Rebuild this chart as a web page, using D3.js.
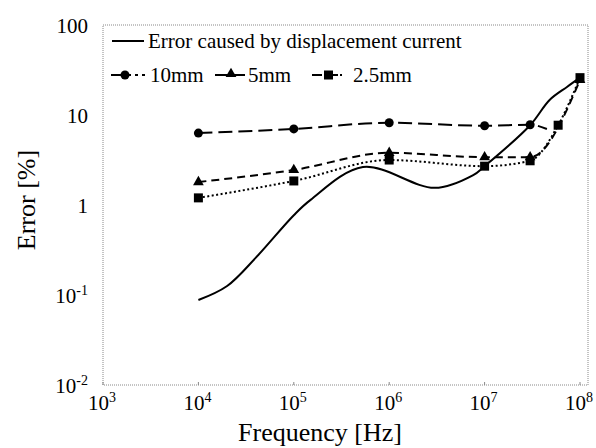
<!DOCTYPE html>
<html><head><meta charset="utf-8">
<script src="https://cdn.jsdelivr.net/npm/d3@7/dist/d3.min.js"></script>
<style>body{margin:0;background:#fff}svg{display:block}</style>
</head><body><svg id="c" width="596" height="448" font-family="'Liberation Serif', 'Times New Roman', Tinos, 'DejaVu Serif', serif"></svg>
<script>
// data
const dispFreq = [1e4, 2e4, 4e4, 1e5, 1.5e5, 5.3e5, 3e6, 7.6e6, 1e7, 3e7, 4.8e7, 7.3e7, 1e8];
const dispErr  = [0.088, 0.126, 0.26, 0.77, 1.14, 2.64, 1.55, 2.15, 2.7, 7.7, 14.7, 20.5, 26];
const f10 = [1e4, 1e5, 1e6, 1e7, 3e7, 4.5e7];
const e10 = [6.3, 7.0, 8.2, 7.6, 7.8, 7.0];
const f5 = [1e4, 1e5, 1e6, 1e7, 3e7, 1e8];
const e5 = [1.8, 2.45, 3.8, 3.4, 3.4, 24.5];
const f25 = [1e4, 1e5, 1e6, 1e7, 3e7, 5.9e7, 1e8];
const e25 = [1.2, 1.85, 3.16, 2.7, 3.1, 7.7, 26];
const xTickExp = [3, 4, 5, 6, 7, 8];
const yTickExp = [-2, -1, 0, 1, 2];
const legendLabels = ["Error caused by displacement current", "10mm", "5mm", "2.5mm"];

const svg = d3.select("#c");
const x = d3.scaleLog().domain([1e3, 1e8]).range([103, 580]);
const y = d3.scaleLog().domain([1e-2, 1e2]).range([385, 25]);

// frame
svg.append("rect").attr("x", 103).attr("y", 25).attr("width", 485).attr("height", 360)
  .attr("fill", "none").attr("stroke", "#888").attr("stroke-width", 1).attr("stroke-dasharray", "1,1");

// ticks
svg.selectAll(".xt").data(xTickExp).enter().append("line")
  .attr("x1", d => x(Math.pow(10, d))).attr("x2", d => x(Math.pow(10, d)))
  .attr("y1", 385).attr("y2", 382).attr("stroke", "#888");

function supLabel(sel, base, exp, small) {
  sel.append("tspan").text(base);
  sel.append("tspan").attr("dy", -8).attr("font-size", small).text(exp);
}
// x tick labels
xTickExp.forEach(e => {
  const t = svg.append("text").attr("x", x(Math.pow(10, e)) - 1).attr("y", 410)
    .attr("text-anchor", "middle").attr("font-size", 21);
  supLabel(t, "10", String(e), 14);
});
// y tick labels
yTickExp.forEach(e => {
  const t = svg.append("text").attr("x", 88).attr("y", y(Math.pow(10, e)) + 8)
    .attr("text-anchor", "end").attr("font-size", 21);
  if (e >= 0) t.text(String(Math.pow(10, e)));
  else supLabel(t, "10", String(e), 14);
});

// axis titles
svg.append("text").attr("x", 320).attr("y", 441).attr("text-anchor", "middle")
  .attr("font-size", 26).text("Frequency [Hz]");
svg.append("text").attr("transform", "translate(35,200) rotate(-90)")
  .attr("text-anchor", "middle").attr("font-size", 26).text("Error [%]");

const zip = (a, b) => a.map((v, i) => [v, b[i]]);

// series
const smooth = d3.line().x(d => x(d[0])).y(d => y(d[1])).curve(d3.curveCatmullRom.alpha(0.5));
svg.append("path").datum(zip(dispFreq, dispErr)).attr("d", smooth)
  .attr("fill", "none").attr("stroke", "#000").attr("stroke-width", 2);

const straight = d3.line().x(d => x(d[0])).y(d => y(d[1])).curve(d3.curveMonotoneX);
svg.append("path").datum(zip(f10, e10)).attr("d", straight)
  .attr("fill", "none").attr("stroke", "#000").attr("stroke-width", 2).attr("stroke-dasharray", "14,6");
svg.append("path").datum(zip(f5, e5)).attr("d", straight)
  .attr("fill", "none").attr("stroke", "#000").attr("stroke-width", 2).attr("stroke-dasharray", "8,5");
svg.append("path").datum(zip(f25, e25)).attr("d", straight)
  .attr("fill", "none").attr("stroke", "#000").attr("stroke-width", 2).attr("stroke-dasharray", "2,2.5");

// markers
const tri = d3.symbol().type(d3.symbolTriangle).size(50);
svg.selectAll(".m10").data(zip(f10, e10).slice(0, 5)).enter().append("circle")
  .attr("cx", d => x(d[0])).attr("cy", d => y(d[1])).attr("r", 4.5).attr("fill", "#000");
svg.selectAll(".m5").data(zip(f5, e5)).enter().append("path").attr("d", tri)
  .attr("transform", d => `translate(${x(d[0])},${y(d[1])})`).attr("fill", "#000");
svg.selectAll(".m25").data(zip(f25, e25)).enter().append("rect")
  .attr("x", d => x(d[0]) - 4.5).attr("y", d => y(d[1]) - 4.5).attr("width", 9).attr("height", 9).attr("fill", "#000");

// legend
svg.append("line").attr("x1", 112).attr("x2", 144).attr("y1", 41).attr("y2", 41).attr("stroke", "#000").attr("stroke-width", 2);
svg.append("text").attr("x", 148).attr("y", 48).attr("font-size", 21).text(legendLabels[0]);
const ly = 75;
svg.append("line").attr("x1", 111).attr("x2", 145).attr("y1", ly).attr("y2", ly).attr("stroke", "#000").attr("stroke-width", 2).attr("stroke-dasharray", "20,4,3,4");
svg.append("circle").attr("cx", 125).attr("cy", ly).attr("r", 4.5);
svg.append("text").attr("x", 150).attr("y", ly + 7).attr("font-size", 21).text(legendLabels[1]);
svg.append("line").attr("x1", 215).attr("x2", 245).attr("y1", ly).attr("y2", ly).attr("stroke", "#000").attr("stroke-width", 2);
svg.append("path").attr("d", tri).attr("transform", `translate(231,${ly - 1})`);
svg.append("text").attr("x", 248).attr("y", ly + 7).attr("font-size", 21).text(legendLabels[2]);
svg.append("line").attr("x1", 312).attr("x2", 343).attr("y1", ly).attr("y2", ly).attr("stroke", "#000").attr("stroke-width", 2).attr("stroke-dasharray", "10,2,2,2");
svg.append("rect").attr("x", 324).attr("y", ly - 4.5).attr("width", 9).attr("height", 9);
svg.append("text").attr("x", 353).attr("y", ly + 7).attr("font-size", 21).text(legendLabels[3]);
</script></body></html>
